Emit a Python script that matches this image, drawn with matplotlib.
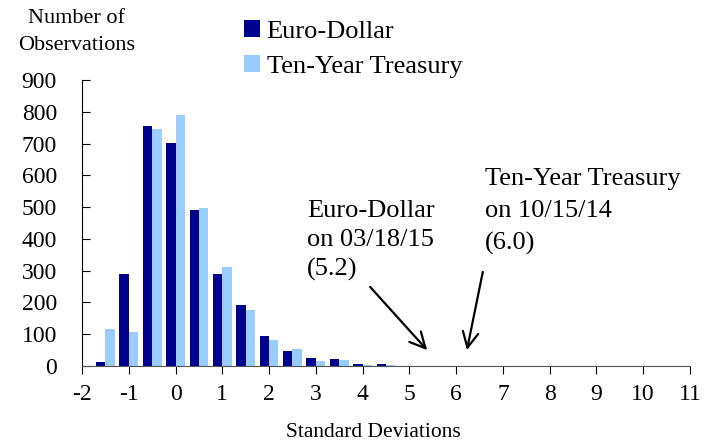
import numpy as np
import matplotlib.pyplot as plt

plt.rcParams['font.family'] = 'Liberation Serif'
plt.rcParams['axes.unicode_minus'] = False

# bin centers (standard deviations)
centers = [-1.5, -1.0, -0.5, 0.0, 0.5, 1.0, 1.5, 2.0, 2.5, 3.0, 3.5, 4.0, 4.5, 5.0]
euro = [14, 289, 755, 703, 491, 290, 192, 95, 48, 24, 21, 6, 5, 1]
treasury = [115, 106, 746, 791, 498, 311, 176, 82, 52, 17, 19, 3, 2, 0]
xticks = list(range(-2, 12))
yticks = list(range(0, 1000, 100))

dark = '#00008f'
light = '#99ccff'

fig = plt.figure(figsize=(7.19, 4.46), dpi=100)
ax = fig.add_axes([82/719, 80/446, 608/719, 286/446])

c = np.array(centers)
ax.bar(c - 0.1, euro, width=0.2, color=dark, label='Euro-Dollar')
ax.bar(c + 0.1, treasury, width=0.2, color=light, label='Ten-Year Treasury')

ax.set_xlim(-2, 11)
ax.set_ylim(0, 900)
ax.set_xticks(xticks)
ax.set_yticks(yticks)
ax.tick_params(axis='x', direction='out', length=6, labelsize=17, pad=7)
ax.tick_params(axis='y', direction='in', length=6, labelsize=17, pad=18)
for s in ['top', 'right']:
    ax.spines[s].set_visible(False)
ax.spines['left'].set_color('black')
ax.spines['bottom'].set_color('#555555')

ax.set_xlabel('Standard Deviations', fontsize=15.5, labelpad=16)
ax.xaxis.set_label_coords(0.48, -0.2)
fig.text(77/719, 1 - 32/446, 'Number of\nObservations', ha='center', va='center',
         fontsize=16, linespacing=1.6)

ax.legend(loc='upper left', bbox_to_anchor=(239/719, 1 - 15/446),
          bbox_transform=fig.transFigure, frameon=False, fontsize=19,
          handlelength=0.6, handleheight=0.6, handletextpad=0.25, labelspacing=0.45,
          borderaxespad=0, borderpad=0.2)

# annotations
ax.text(2.81, 522, 'Euro-Dollar\non 03/18/15\n(5.2)', fontsize=19,
        ha='left', va='top', linespacing=1.4)
ax.text(6.62, 622, 'Ten-Year Treasury\non 10/15/14\n(6.0)', fontsize=19,
        ha='left', va='top', linespacing=1.55)
arrow = dict(arrowstyle='->', color='black', lw=1.6, mutation_scale=28,
             shrinkA=0, shrinkB=0)
ax.annotate('', xy=(5.38, 50), xytext=(4.16, 249), arrowprops=arrow)
ax.annotate('', xy=(6.23, 50), xytext=(6.57, 296), arrowprops=arrow)

fig.savefig('out.png', dpi=100)
